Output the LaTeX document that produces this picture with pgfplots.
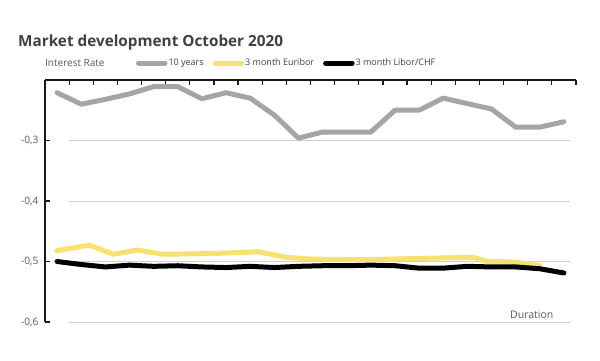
\documentclass[border=0pt]{standalone}
\usepackage{fontspec}
\setmainfont{Open Sans}
\usepackage{pgfplots}
\pgfplotsset{compat=1.18}
\definecolor{textgray}{HTML}{595959}
\definecolor{titlegray}{HTML}{404040}
\definecolor{gridgray}{HTML}{D0D0D0}
\definecolor{tengray}{HTML}{A5A5A5}
\definecolor{euryellow}{HTML}{F6E171}
\begin{document}
\begin{tikzpicture}[x=1pt,y=1pt]
\path[use as bounding box] (0,0) rectangle (600,361);
\begin{axis}[
  at={(45pt,39pt)}, anchor=south west,
  scale only axis, width=531pt, height=242pt,
  xmin=-0.5, xmax=21.5, ymin=-0.6, ymax=-0.2,
  axis x line*=top, axis y line*=left,
  axis line style={-, line width=1.4pt, color=black!90},
  xtick={-0.5,0.5,...,21.5}, xticklabels={},
  ytick={-0.6,-0.5,-0.4,-0.3},
  tick align=inside, major tick length=5pt,
  tick style={line width=1.2pt, color=black!90},
  /pgf/number format/assume math mode=true,
  /pgf/number format/.cd, fixed, fixed zerofill, precision=1, use comma, /pgfplots/.cd,
  yticklabel style={font=\fontsize{10.2}{12}\selectfont, text=textgray, xshift=-3pt},
  clip=false,
  legend style={at={(axis description cs:0.171,1.07)}, anchor=west, draw=none, fill=none,
    font=\fontsize{9}{10}\selectfont, text=titlegray, legend columns=3,
    /tikz/every even column/.append style={column sep=8pt},
    inner sep=0pt, nodes={inner sep=1pt}},
  legend image code/.code={\draw[#1, line cap=round] (2.5pt,0pt) -- (29pt,0pt);},
]
\draw[gridgray, line width=0.8pt] (axis cs:0.5,-0.3) -- (axis cs:21.25,-0.3);
\draw[gridgray, line width=0.8pt] (axis cs:0.5,-0.4) -- (axis cs:21.25,-0.4);
\draw[gridgray, line width=0.8pt] (axis cs:0.5,-0.5) -- (axis cs:21.25,-0.5);
\draw[gridgray, line width=0.8pt] (axis cs:0.5,-0.6) -- (axis cs:21.25,-0.6);
\draw[black!90, line width=1.4pt] (rel axis cs:0,1) -- (rel axis cs:1,1);
\addplot[tengray, line width=5pt, line cap=round, line join=round] coordinates {
(0,-0.221) (1,-0.240) (2,-0.232) (3,-0.223) (4,-0.211) (5,-0.211) (6,-0.231) (7,-0.221)
(8,-0.230) (9,-0.258) (10,-0.296) (11,-0.286) (12,-0.286) (13,-0.286) (14,-0.250) (15,-0.250)
(16,-0.230) (17,-0.239) (18,-0.248) (19,-0.278) (20,-0.278) (21,-0.269)};
\addlegendentry{10 years}
\addplot[euryellow, line width=5pt, line cap=round, line join=round] coordinates {
(0,-0.482) (1.34,-0.473) (2.33,-0.488) (3.34,-0.481) (4.34,-0.488) (6.3,-0.487) (8.34,-0.484)
(9.5,-0.493) (10.5,-0.496) (12.6,-0.497) (15,-0.495) (17.25,-0.493) (17.8,-0.4997) (19.0,-0.501) (20.0,-0.507)};
\addlegendentry{3 month Euribor}
\addplot[black, line width=5pt, line cap=round, line join=round] coordinates {
(0,-0.500) (1,-0.505) (2,-0.509) (3,-0.506) (4,-0.508) (5,-0.507) (6,-0.509) (7,-0.510)
(8,-0.508) (9,-0.510) (10,-0.508) (11,-0.507) (12,-0.507) (13,-0.506) (14,-0.507) (15,-0.511)
(16,-0.511) (17,-0.508) (18,-0.509) (19,-0.509) (20,-0.512) (21,-0.519)};
\addlegendentry{3 month Libor/CHF}
\end{axis}
\node[anchor=base west, inner sep=0pt, text=titlegray, font=\fontsize{15.3}{18}\selectfont\bfseries] at (18,314) {Market development October 2020};
\node[anchor=base west, inner sep=0pt, text=textgray, font=\fontsize{10}{12}\selectfont] at (45,294) {Interest Rate};
\node[anchor=base west, inner sep=0pt, text=textgray, font=\fontsize{10.5}{12}\selectfont] at (510,42) {Duration};
\end{tikzpicture}
\end{document}
